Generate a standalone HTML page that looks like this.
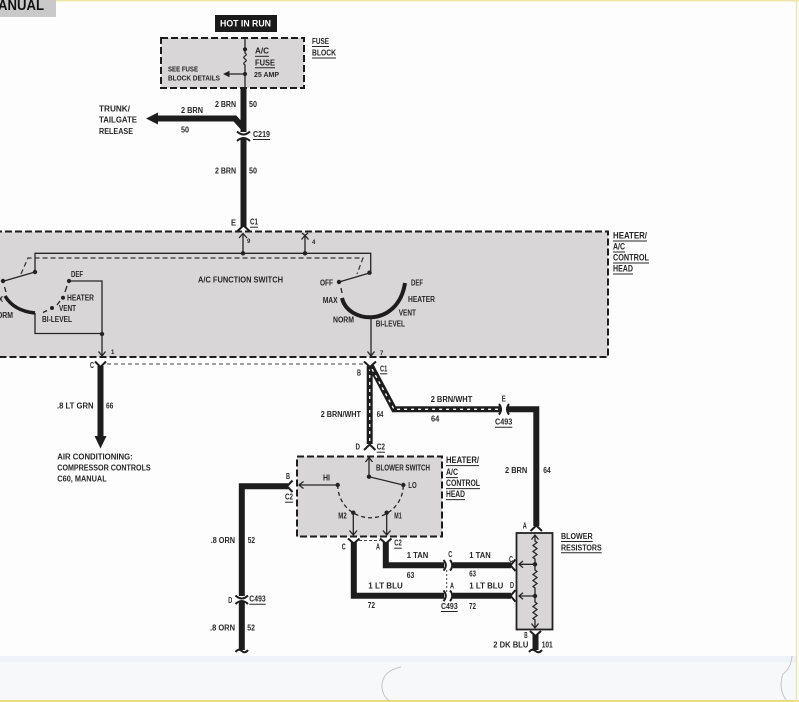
<!DOCTYPE html>
<html><head><meta charset="utf-8">
<style>
html,body{margin:0;padding:0;background:#fdfdfd;}
svg{display:block}
text{font-family:"Liberation Sans Narrow","Liberation Sans",sans-serif;font-weight:bold;font-size:8px;fill:#262626}
.w{fill:none;stroke:#1d1d1d;stroke-width:6}
.s{fill:none;stroke:#fafafa;stroke-width:1.3;stroke-dasharray:3 4}
.l{fill:none;stroke:#262626;stroke-width:1.3}
.f{fill:none;stroke:#1d1d1d;stroke-width:2}
.u{stroke:#262626;stroke-width:1}
.d{fill:none;stroke:#1d1d1d;stroke-width:2;stroke-dasharray:7 3}
.g{fill:#d8d6d6}
.p{font-size:6px}
</style></head><body>
<svg width="799" height="702" viewBox="0 0 799 702" xmlns="http://www.w3.org/2000/svg">
<!-- page background -->
<rect width="799" height="702" fill="#fdfdfd"/>
<rect y="656" width="796" height="44" fill="#f7f8fa"/>
<rect y="656" width="796" height="6" fill="#eff2f6"/>
<line x1="0" y1="0.7" x2="799" y2="0.7" stroke="#efe6a6" stroke-width="1.5"/>
<line x1="0" y1="701" x2="799" y2="701" stroke="#e6dc80" stroke-width="2"/>
<line x1="796.5" y1="0" x2="796.5" y2="702" stroke="#ede6ae" stroke-width="1.5"/>
<path d="M401 667 Q381 671 382 688 Q383 696 389 701" fill="none" stroke="#c4c4c4" stroke-width="1"/>
<path d="M792 656 Q791 668 783 674 Q778 688 786 700" fill="none" stroke="#c4c4c4" stroke-width="1"/>

<!-- ANUAL header -->
<rect x="0" y="0" width="56" height="17" fill="#c9c9c9"/>
<text x="-2" y="10" style="font-size:15px;font-family:'Liberation Sans',sans-serif;fill:#111" textLength="46" lengthAdjust="spacingAndGlyphs">ANUAL</text>

<!-- HOT IN RUN -->
<rect x="215" y="15" width="62" height="17" fill="#1a1a1a"/>
<text x="220" y="26.5" style="font-size:9px;fill:#fff" textLength="51" lengthAdjust="spacingAndGlyphs">HOT IN RUN</text>

<!-- Fuse block -->
<rect x="161" y="38" width="143" height="50" class="g"/>
<rect x="161" y="38" width="143" height="50" class="d"/>
<path class="l" d="M245 38 V49"/>
<circle cx="245" cy="49.3" r="2.1" fill="#222"/>
<path class="l" d="M245 51 V53 q2.5 1.5 0 3 q-2.5 1.5 0 3 q2.5 1.5 0 3 q-2.5 1.5 0 3 V88"/>
<circle cx="245" cy="74" r="2.1" fill="#222"/>
<path class="l" d="M245 74 H229"/>
<polygon points="223,74 229.5,70.8 229.5,77.2" fill="#222"/>
<text x="168" y="71.3" textLength="30" lengthAdjust="spacingAndGlyphs" style="font-size:7px">SEE FUSE</text>
<text x="168" y="80.7" textLength="52" lengthAdjust="spacingAndGlyphs" style="font-size:7px">BLOCK DETAILS</text>
<text x="255" y="53.7" textLength="14" lengthAdjust="spacingAndGlyphs">A/C</text>
<line class="u" x1="255" y1="56.3" x2="269" y2="56.3"/>
<text x="255" y="65.3" textLength="20" lengthAdjust="spacingAndGlyphs">FUSE</text>
<line class="u" x1="255" y1="67.8" x2="275" y2="67.8"/>
<text x="254" y="77" textLength="25" lengthAdjust="spacingAndGlyphs" style="font-size:7px">25 AMP</text>
<text x="312" y="44" textLength="17" lengthAdjust="spacingAndGlyphs">FUSE</text>
<line class="u" x1="312" y1="46.5" x2="329" y2="46.5"/>
<text x="312" y="55.3" textLength="24" lengthAdjust="spacingAndGlyphs">BLOCK</text>
<line class="u" x1="312" y1="58" x2="336" y2="58"/>

<!-- Wire 50 -->
<path class="w" d="M243.5 87 V132"/>
<path class="w" d="M157 118.5 H235 L243.5 128" stroke-linejoin="miter"/>
<polygon points="146,118.5 158,112.5 158,124.5" fill="#1d1d1d"/>
<path class="f" d="M237 131.5 Q243.5 137.5 250 131.5"/>
<path class="f" d="M237 141 Q243.5 135 250 141"/>
<path class="w" d="M243.5 139 V227"/>
<path class="f" d="M237.5 231 L243.5 225.5 L249.5 231"/>
<text x="215" y="107" textLength="21" lengthAdjust="spacingAndGlyphs">2 BRN</text>
<text x="249" y="107" textLength="8" lengthAdjust="spacingAndGlyphs">50</text>
<text x="99" y="111.3" textLength="31" lengthAdjust="spacingAndGlyphs">TRUNK/</text>
<text x="99" y="122.3" textLength="38" lengthAdjust="spacingAndGlyphs">TAILGATE</text>
<text x="99" y="134" textLength="34" lengthAdjust="spacingAndGlyphs">RELEASE</text>
<text x="181" y="113" textLength="22" lengthAdjust="spacingAndGlyphs">2 BRN</text>
<text x="181" y="132.3" textLength="8" lengthAdjust="spacingAndGlyphs">50</text>
<text x="253" y="137" textLength="17" lengthAdjust="spacingAndGlyphs">C219</text>
<line class="u" x1="253" y1="139.5" x2="270" y2="139.5"/>
<text x="215" y="173.7" textLength="21" lengthAdjust="spacingAndGlyphs">2 BRN</text>
<text x="249" y="173.7" textLength="8" lengthAdjust="spacingAndGlyphs">50</text>
<text x="231" y="225.7" textLength="5" lengthAdjust="spacingAndGlyphs">E</text>
<text x="250" y="224.7" textLength="8" lengthAdjust="spacingAndGlyphs">C1</text>
<line class="u" x1="250" y1="227.2" x2="258" y2="227.2"/>

<!-- Control head big box -->
<rect x="-5" y="231.5" width="613" height="125.5" class="g"/>
<rect x="-5" y="231.5" width="613" height="125.5" class="d"/>
<text x="613" y="238.3" textLength="34" lengthAdjust="spacingAndGlyphs" style="font-size:9px">HEATER/</text>
<line class="u" x1="613" y1="241" x2="647" y2="241"/>
<text x="613" y="249.3" textLength="12" lengthAdjust="spacingAndGlyphs" style="font-size:9px">A/C</text>
<line class="u" x1="613" y1="252" x2="625" y2="252"/>
<text x="613" y="260.3" textLength="36" lengthAdjust="spacingAndGlyphs" style="font-size:9px">CONTROL</text>
<line class="u" x1="613" y1="263" x2="649" y2="263"/>
<text x="613" y="271.3" textLength="20" lengthAdjust="spacingAndGlyphs" style="font-size:9px">HEAD</text>
<line class="u" x1="613" y1="274" x2="633" y2="274"/>

<!-- pins top -->
<path class="l" d="M239 238 L243 233.5 L247 238"/>
<path class="l" d="M243 234 V253.3"/>
<text x="247" y="243" class="p">9</text>
<path class="l" d="M301.5 239.5 L305 235.5 L308.5 239.5"/>
<path class="l" d="M302 233 L305 235.5 L308 233"/>
<path class="l" d="M305 236 V253.3"/>
<text x="312" y="244" class="p">4</text>
<path class="l" d="M35 272 V253.3 H370.7 V272.5"/>
<circle cx="243" cy="253.3" r="2.2" fill="#222"/>
<circle cx="305" cy="253.3" r="2.2" fill="#222"/>
<path d="M21 274 L28 258 H363 L357 274" fill="none" stroke="#333" stroke-width="1.2" stroke-dasharray="5 3"/>

<!-- left switch -->
<circle cx="35" cy="272" r="2.2" fill="#222"/>
<path class="l" d="M35 272 L4 281"/>
<circle cx="3" cy="281" r="2.2" fill="#222"/>
<path class="l" d="M4.5 287 L6 292"/>
<path d="M5 296 Q14 311 35 313" fill="none" stroke="#1d1d1d" stroke-width="3.5"/>
<path class="l" d="M35 313 V333.5 H102"/>
<circle cx="102" cy="334" r="2.2" fill="#222"/>
<circle cx="69" cy="281" r="2.1" fill="#222"/>
<path class="l" d="M69 281 H102 V356"/>
<path class="l" d="M98.5 351.5 L102 356 L105.5 351.5"/>
<text x="111" y="354" class="p">1</text>
<circle cx="63" cy="297.7" r="2" fill="#222"/>
<circle cx="52" cy="308" r="2" fill="#222"/>
<path class="l" d="M67 286 L65 292 M60 301 L57 305 M47 310.5 L43 312.5"/>
<text x="71" y="277" textLength="12" lengthAdjust="spacingAndGlyphs">DEF</text>
<text x="67" y="300.7" textLength="27" lengthAdjust="spacingAndGlyphs">HEATER</text>
<text x="59" y="311" textLength="17" lengthAdjust="spacingAndGlyphs">VENT</text>
<text x="42" y="322" textLength="30" lengthAdjust="spacingAndGlyphs">BI-LEVEL</text>
<text x="-8" y="318" textLength="21" lengthAdjust="spacingAndGlyphs">NORM</text>
<text x="-12" y="302" textLength="15" lengthAdjust="spacingAndGlyphs">MAX</text>

<text x="198" y="282.3" textLength="85" lengthAdjust="spacingAndGlyphs">A/C FUNCTION SWITCH</text>

<!-- right switch -->
<circle cx="369.5" cy="272.7" r="2.2" fill="#222"/>
<path class="l" d="M369.5 273 L339 282"/>
<circle cx="339" cy="282" r="2.2" fill="#222"/>
<path class="l" d="M341 288 L342 293"/>
<path d="M342 298 C348 324 398 328 405 283" fill="none" stroke="#1d1d1d" stroke-width="4"/>
<path class="l" d="M371 316 V356"/>
<path class="l" d="M367.5 351.5 L371 356 L374.5 351.5"/>
<text x="380" y="355" class="p">7</text>
<text x="320" y="285.7" textLength="13" lengthAdjust="spacingAndGlyphs">OFF</text>
<text x="322.7" y="303" textLength="15" lengthAdjust="spacingAndGlyphs">MAX</text>
<text x="333" y="322.3" textLength="21" lengthAdjust="spacingAndGlyphs">NORM</text>
<text x="411" y="285.3" textLength="12" lengthAdjust="spacingAndGlyphs">DEF</text>
<text x="408" y="302" textLength="27" lengthAdjust="spacingAndGlyphs">HEATER</text>
<text x="398.7" y="315.3" textLength="17.3" lengthAdjust="spacingAndGlyphs">VENT</text>
<text x="375.7" y="326.3" textLength="29.3" lengthAdjust="spacingAndGlyphs">BI-LEVEL</text>

<!-- connector housing link -->
<path d="M107 364 H365" fill="none" stroke="#444" stroke-width="1" stroke-dasharray="4 3"/>

<!-- C wire 66 -->
<path class="f" d="M95 361.5 L100.5 367 L106 361.5"/>
<path class="w" d="M100.5 366 V437"/>
<polygon points="94.5,436 106.5,436 100.5,448.5" fill="#1d1d1d"/>
<text x="90" y="368" textLength="4" lengthAdjust="spacingAndGlyphs">C</text>
<text x="57" y="408.7" textLength="36.6" lengthAdjust="spacingAndGlyphs">.8 LT GRN</text>
<text x="106" y="408.7" textLength="7.3" lengthAdjust="spacingAndGlyphs">66</text>
<text x="57.3" y="459.7" textLength="75.4" lengthAdjust="spacingAndGlyphs">AIR CONDITIONING:</text>
<text x="57.3" y="470.7" textLength="93.4" lengthAdjust="spacingAndGlyphs">COMPRESSOR CONTROLS</text>
<text x="57.3" y="481.7" textLength="49.4" lengthAdjust="spacingAndGlyphs">C60, MANUAL</text>

<!-- B C1 wires 64 -->
<path class="f" d="M364 361.5 L370 367 L376 361.5"/>
<path class="w" d="M369.7 366 V444"/>
<path class="s" d="M369.7 368 V442"/>
<path class="w" d="M371 366 L394 409.3 H500"/>
<path class="s" d="M372 369 L394 409.3 H498"/>
<path class="f" d="M499 404 Q503 409.3 499 414.6"/>
<path class="f" d="M509 404 Q505 409.3 509 414.6"/>
<path class="w" d="M508 409.3 H536.3 V526"/>
<path class="f" d="M530.5 531 L536.3 525.5 L542 531"/>
<path class="f" d="M364 450 L369.7 444.5 L375.4 450"/>
<text x="357" y="375.7" textLength="4" lengthAdjust="spacingAndGlyphs">B</text>
<text x="380" y="371.3" textLength="7.3" lengthAdjust="spacingAndGlyphs">C1</text>
<line class="u" x1="380" y1="373.8" x2="387.3" y2="373.8"/>
<text x="320.7" y="417" textLength="40.3" lengthAdjust="spacingAndGlyphs">2 BRN/WHT</text>
<text x="376.7" y="417" textLength="6.6" lengthAdjust="spacingAndGlyphs">64</text>
<text x="430.7" y="402" textLength="41.6" lengthAdjust="spacingAndGlyphs">2 BRN/WHT</text>
<text x="431" y="421.3" textLength="8.3" lengthAdjust="spacingAndGlyphs">64</text>
<text x="501.7" y="401.3" textLength="4" lengthAdjust="spacingAndGlyphs">E</text>
<text x="495" y="424.7" textLength="17.3" lengthAdjust="spacingAndGlyphs">C493</text>
<line class="u" x1="495" y1="427.2" x2="512.3" y2="427.2"/>
<text x="505" y="473" textLength="22.3" lengthAdjust="spacingAndGlyphs">2 BRN</text>
<text x="543.3" y="473" textLength="7.4" lengthAdjust="spacingAndGlyphs">64</text>
<text x="522.7" y="528.7" textLength="4" lengthAdjust="spacingAndGlyphs">A</text>
<text x="355.5" y="449.7" textLength="4.5" lengthAdjust="spacingAndGlyphs">D</text>
<text x="376.7" y="449.7" textLength="8.3" lengthAdjust="spacingAndGlyphs">C2</text>
<line class="u" x1="376.7" y1="452.2" x2="385" y2="452.2"/>

<!-- Blower switch box -->
<rect x="297" y="456.5" width="145" height="80" class="g"/>
<rect x="297" y="456.5" width="145" height="80" class="d"/>
<text x="446" y="463" textLength="33" lengthAdjust="spacingAndGlyphs" style="font-size:9px">HEATER/</text>
<line class="u" x1="446" y1="465.6" x2="479" y2="465.6"/>
<text x="446" y="475" textLength="12" lengthAdjust="spacingAndGlyphs" style="font-size:9px">A/C</text>
<line class="u" x1="446" y1="477.6" x2="458" y2="477.6"/>
<text x="446" y="486" textLength="34" lengthAdjust="spacingAndGlyphs" style="font-size:9px">CONTROL</text>
<line class="u" x1="446" y1="488.6" x2="480" y2="488.6"/>
<text x="446" y="497" textLength="19" lengthAdjust="spacingAndGlyphs" style="font-size:9px">HEAD</text>
<line class="u" x1="446" y1="499.6" x2="465" y2="499.6"/>
<text x="376" y="470.3" textLength="54" lengthAdjust="spacingAndGlyphs">BLOWER SWITCH</text>
<path class="l" d="M365.5 462 L369 457.5 L372.5 462"/>
<path class="l" d="M369 458 V476.7 L401 484.5"/>
<circle cx="369" cy="476.7" r="2.2" fill="#222"/>
<circle cx="403.3" cy="485" r="2.2" fill="#222"/>
<circle cx="337.7" cy="485" r="2.2" fill="#222"/>
<path class="l" d="M337.7 485 H299"/>
<path class="l" d="M303.5 481.5 L299 485 L303.5 488.5"/>
<path d="M337.7 485 A32.8 32.8 0 0 0 403.3 485" fill="none" stroke="#262626" stroke-width="1.3" stroke-dasharray="4 3"/>
<circle cx="353.3" cy="512.7" r="2.2" fill="#222"/>
<circle cx="386.7" cy="512.7" r="2.2" fill="#222"/>
<path class="l" d="M353.3 512.7 V535 M349.5 530.5 L353.3 535 L357 530.5"/>
<path class="l" d="M386.7 512.7 V535 M383 530.5 L386.7 535 L390.5 530.5"/>
<text x="323" y="480.7" textLength="7" lengthAdjust="spacingAndGlyphs">HI</text>
<text x="408.3" y="488" textLength="8.4" lengthAdjust="spacingAndGlyphs">LO</text>
<text x="338.3" y="518.7" textLength="8.4" lengthAdjust="spacingAndGlyphs">M2</text>
<text x="394.3" y="518.7" textLength="7.4" lengthAdjust="spacingAndGlyphs">M1</text>

<!-- HI wire 52 -->
<path class="f" d="M292.5 480.5 L287 486.3 L292.5 492"/>
<path class="w" d="M288 486.3 H241.8 V596" stroke-linejoin="miter"/>
<path class="f" d="M235.5 595.5 Q241.8 601.5 248 595.5"/>
<path class="f" d="M235.5 604 Q241.8 598 248 604"/>
<path class="w" d="M241.8 602 V650"/>
<path class="f" d="M235.5 652 Q238.5 648 241.8 651 Q245 654 248 650"/>
<text x="286" y="479" textLength="4" lengthAdjust="spacingAndGlyphs">B</text>
<text x="285" y="499.7" textLength="8" lengthAdjust="spacingAndGlyphs">C2</text>
<line class="u" x1="285" y1="502.2" x2="293" y2="502.2"/>
<text x="210.7" y="543" textLength="24.3" lengthAdjust="spacingAndGlyphs">.8 ORN</text>
<text x="247.7" y="543" textLength="7.3" lengthAdjust="spacingAndGlyphs">52</text>
<text x="228.3" y="603" textLength="4" lengthAdjust="spacingAndGlyphs">D</text>
<text x="249.3" y="601.7" textLength="16.4" lengthAdjust="spacingAndGlyphs">C493</text>
<line class="u" x1="249.3" y1="604.2" x2="265.7" y2="604.2"/>
<text x="210" y="630.3" textLength="25" lengthAdjust="spacingAndGlyphs">.8 ORN</text>
<text x="247.3" y="630.3" textLength="7.7" lengthAdjust="spacingAndGlyphs">52</text>

<!-- M2 / M1 wires -->
<path class="f" d="M348 538.5 L353.8 543.5 L359.5 538.5"/>
<path class="f" d="M380 538.5 L385.8 543.5 L391.5 538.5"/>
<path d="M359 540.5 H380" fill="none" stroke="#444" stroke-width="1" stroke-dasharray="3 2"/>
<path class="w" d="M353.8 542 V595.8 H444" stroke-linejoin="miter"/>
<path class="w" d="M385.8 542 V565.3 H444" stroke-linejoin="miter"/>
<path class="f" d="M443.5 560 Q448 565.3 443.5 570.6"/>
<path class="f" d="M450 560 Q454.5 565.3 450 570.6"/>
<path class="f" d="M443.5 590.5 Q448 595.8 443.5 601.1"/>
<path class="f" d="M450 590.5 Q454.5 595.8 450 601.1"/>
<path class="w" d="M453 565.3 H511"/>
<path class="w" d="M453 595.8 H511"/>
<path class="f" d="M515.5 559.5 L510.5 565.3 L515.5 571"/>
<path class="f" d="M515.5 590 L510.5 595.8 L515.5 601.6"/>
<path d="M446.7 570 V592" fill="none" stroke="#444" stroke-width="1" stroke-dasharray="2 2"/>
<text x="341.7" y="549.7" textLength="4" lengthAdjust="spacingAndGlyphs">C</text>
<text x="376" y="549.7" textLength="4" lengthAdjust="spacingAndGlyphs">A</text>
<text x="394.3" y="545.7" textLength="7.4" lengthAdjust="spacingAndGlyphs">C2</text>
<line class="u" x1="394.3" y1="548.2" x2="401.7" y2="548.2"/>
<text x="406.7" y="558" textLength="21.6" lengthAdjust="spacingAndGlyphs">1 TAN</text>
<text x="406.7" y="578" textLength="7.6" lengthAdjust="spacingAndGlyphs">63</text>
<text x="448.3" y="557" textLength="4" lengthAdjust="spacingAndGlyphs">C</text>
<text x="469.3" y="558" textLength="21.4" lengthAdjust="spacingAndGlyphs">1 TAN</text>
<text x="469.3" y="576.3" textLength="6.7" lengthAdjust="spacingAndGlyphs">63</text>
<text x="509" y="562" textLength="4" lengthAdjust="spacingAndGlyphs">C</text>
<text x="368.3" y="588.7" textLength="34.4" lengthAdjust="spacingAndGlyphs">1 LT BLU</text>
<text x="367.7" y="608" textLength="7.3" lengthAdjust="spacingAndGlyphs">72</text>
<text x="450" y="588.7" textLength="4" lengthAdjust="spacingAndGlyphs">A</text>
<text x="469.3" y="588.7" textLength="34" lengthAdjust="spacingAndGlyphs">1 LT BLU</text>
<text x="510" y="588" textLength="4" lengthAdjust="spacingAndGlyphs">D</text>
<text x="469" y="609" textLength="7" lengthAdjust="spacingAndGlyphs">72</text>
<text x="441" y="609" textLength="16.7" lengthAdjust="spacingAndGlyphs">C493</text>
<line class="u" x1="441" y1="611.5" x2="457.7" y2="611.5"/>

<!-- Blower resistors -->
<rect x="516.5" y="533" width="36" height="96.5" fill="#d8d6d6" stroke="#222" stroke-width="1.8"/>
<path class="l" d="M531.5 539.5 L535 535 L538.5 539.5"/>
<path class="l" d="M535 535 V541 l2 1.5 l-4 3 l4 3 l-4 3 l4 3 l-4 3 l2 1.5 V570 l2 1.5 l-4 3 l4 3 l-4 3 l4 3 l-4 3 l2 1.5 V602 l2 1.5 l-4 3 l4 3 l-4 3 l4 3 l-4 3 l2 1.5 V628"/>
<path class="l" d="M531.5 623.5 L535 628 L538.5 623.5"/>
<circle cx="535" cy="564.3" r="2.2" fill="#222"/>
<circle cx="535" cy="596" r="2.2" fill="#222"/>
<path class="l" d="M535 564.3 H519 M523 561 L519 564.3 L523 567.6"/>
<path class="l" d="M535 596 H519 M523 592.7 L519 596 L523 599.3"/>
<text x="561" y="539" textLength="31.7" lengthAdjust="spacingAndGlyphs">BLOWER</text>
<line class="u" x1="561" y1="541.5" x2="592.7" y2="541.5"/>
<text x="561" y="550.3" textLength="40.7" lengthAdjust="spacingAndGlyphs">RESISTORS</text>
<line class="u" x1="561" y1="552.8" x2="601.7" y2="552.8"/>
<path class="f" d="M530 631 L535.5 636 L541 631"/>
<path class="w" d="M535.5 635 V650"/>
<path class="f" d="M529 652 Q532 648 535.5 651 Q539 654 542 650"/>
<text x="524.3" y="638" textLength="3.4" lengthAdjust="spacingAndGlyphs">B</text>
<text x="493.3" y="647.3" textLength="35" lengthAdjust="spacingAndGlyphs">2 DK BLU</text>
<text x="541.7" y="647.3" textLength="11" lengthAdjust="spacingAndGlyphs">101</text>
</svg>
</body></html>
